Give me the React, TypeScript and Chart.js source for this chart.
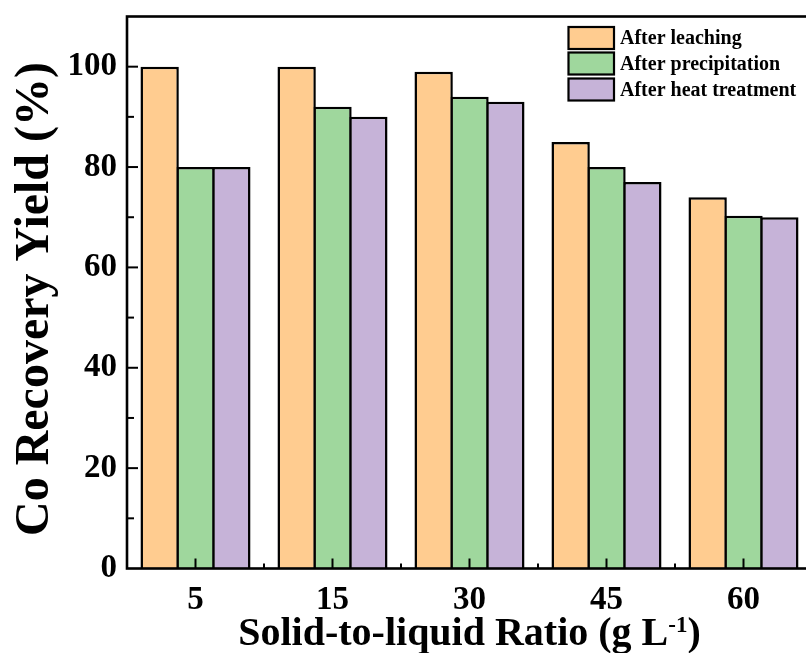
import { useEffect, useRef } from 'react';
import { Chart, registerables } from 'chart.js';

Chart.register(...registerables);

// Solid-to-liquid ratios (g/L)
const ratios = ['5', '15', '30', '45', '60'];
// Co recovery yield (%) after each processing stage
const afterLeaching = [100, 100, 99, 85, 74];
const afterPrecipitation = [80, 92, 94, 80, 70.3];
const afterHeatTreatment = [80, 90, 93, 77, 70];
const seriesLabels = ['After leaching', 'After precipitation', 'After heat treatment'];
const seriesColors = ['#FFCC90', '#9FD79D', '#C6B3D8'];
const yMajorStep = 20;
const yMinorStep = 10;
const yMax = 110;

const SERIF = '"Liberation Serif", "Times New Roman", Times, serif';

const decorPlugin = {
  id: 'decor',
  afterDatasetsDraw(chart: any) {
    const { ctx, chartArea: a, scales } = chart;
    const xs = scales.x;
    const ys = scales.y;
    ctx.save();
    ctx.strokeStyle = '#000';
    ctx.lineCap = 'butt';
    const seg = (x1: number, y1: number, x2: number, y2: number) => {
      ctx.beginPath();
      ctx.moveTo(x1, y1);
      ctx.lineTo(x2, y2);
      ctx.stroke();
    };
    // inward y ticks
    ctx.lineWidth = 2;
    for (let v = yMinorStep; v < yMax; v += yMinorStep) {
      const py = ys.getPixelForValue(v);
      const len = v % yMajorStep === 0 ? 11 : 7;
      seg(a.left, py, a.left + len, py);
    }
    // inward x ticks: major at categories, minor between them
    const n = ratios.length;
    for (let i = 0; i < n; i++) {
      const px = xs.getPixelForValue(i);
      seg(px, a.bottom, px, a.bottom - 10);
    }
    for (let i = 0; i < n - 1; i++) {
      const px = (xs.getPixelForValue(i) + xs.getPixelForValue(i + 1)) / 2;
      seg(px, a.bottom, px, a.bottom - 5);
    }
    // plot frame
    ctx.lineWidth = 2.6;
    ctx.strokeRect(a.left, a.top, a.right - a.left, a.bottom - a.top);
    ctx.restore();
  },
  afterDraw(chart: any) {
    const { ctx, chartArea: a } = chart;
    ctx.save();
    ctx.fillStyle = '#000';

    // x-axis title with superscript
    const mainFont = `bold 40px ${SERIF}`;
    const supFont = `bold 23px ${SERIF}`;
    const t1 = 'Solid-to-liquid Ratio (g L';
    const t2 = '-1';
    const t3 = ')';
    ctx.font = mainFont;
    const w1 = ctx.measureText(t1).width;
    const w3 = ctx.measureText(t3).width;
    ctx.font = supFont;
    const w2 = ctx.measureText(t2).width;
    const total = w1 + w2 + w3;
    let x0 = (a.left + a.right) / 2 - total / 2;
    const base = 645;
    ctx.textAlign = 'left';
    ctx.textBaseline = 'alphabetic';
    ctx.font = mainFont;
    ctx.fillText(t1, x0, base);
    x0 += w1;
    ctx.font = supFont;
    ctx.fillText(t2, x0, base - 13);
    x0 += w2;
    ctx.font = mainFont;
    ctx.fillText(t3, x0, base);

    // y-axis title
    ctx.save();
    ctx.translate(48, 299);
    ctx.rotate(-Math.PI / 2);
    ctx.font = `bold 48px ${SERIF}`;
    ctx.textAlign = 'center';
    ctx.fillText('Co Recovery Yield (%)', 0, 0);
    ctx.restore();

    // legend
    const boxX = 568.5;
    const boxW = 45.5;
    const boxH = 22;
    const rowTop = [27, 52.5, 78.5];
    ctx.font = `bold 20px ${SERIF}`;
    ctx.textBaseline = 'middle';
    ctx.lineWidth = 2.2;
    ctx.strokeStyle = '#000';
    seriesLabels.forEach((label, i) => {
      ctx.fillStyle = seriesColors[i];
      ctx.fillRect(boxX, rowTop[i], boxW, boxH);
      ctx.strokeRect(boxX, rowTop[i], boxW, boxH);
      ctx.fillStyle = '#000';
      ctx.fillText(label, boxX + boxW + 6, rowTop[i] + boxH / 2 + 1);
    });
    ctx.restore();
  },
};

export default function App() {
  const canvasRef = useRef<HTMLCanvasElement | null>(null);

  useEffect(() => {
    document.body.style.margin = '0';
    const canvas = canvasRef.current;
    if (!canvas) return;
    const series = [afterLeaching, afterPrecipitation, afterHeatTreatment];
    const chart = new Chart(canvas, {
      type: 'bar',
      data: {
        labels: ratios,
        datasets: series.map((values, i) => ({
          label: seriesLabels[i],
          data: values,
          backgroundColor: seriesColors[i],
          borderColor: '#000',
          borderWidth: 2.5,
          borderSkipped: 'start',
          categoryPercentage: 0.785,
          barPercentage: 1.07,
        })),
      },
      options: {
        responsive: false,
        animation: false,
        devicePixelRatio: 1,
        layout: { padding: { top: 16.5, left: 0, right: 0, bottom: 0 } },
        plugins: {
          legend: { display: false },
          tooltip: { enabled: false },
        },
        scales: {
          x: {
            grid: { display: false, drawTicks: false },
            border: { display: false },
            ticks: {
              color: '#000',
              padding: 12,
              maxRotation: 0,
              font: { family: SERIF, size: 33, weight: 'bold' },
            },
            afterFit(scale: any) {
              scale.height = 84.5;
              scale.paddingLeft = 0;
              scale.paddingRight = 0;
            },
          },
          y: {
            min: 0,
            max: yMax,
            grid: { display: false, drawTicks: false },
            border: { display: false },
            ticks: {
              stepSize: yMajorStep,
              includeBounds: false,
              color: '#000',
              padding: 10,
              font: { family: SERIF, size: 33, weight: 'bold' },
            },
            afterFit(scale: any) {
              scale.width = 127;
              scale.paddingTop = 0;
              scale.paddingBottom = 0;
            },
          },
        },
      },
      plugins: [decorPlugin],
    } as any);
    return () => chart.destroy();
  }, []);

  return (
    <div style={{ width: 806, height: 653, overflow: 'hidden', background: '#fff' }}>
      <canvas ref={canvasRef} width={812} height={653} style={{ display: 'block' }} />
    </div>
  );
}
